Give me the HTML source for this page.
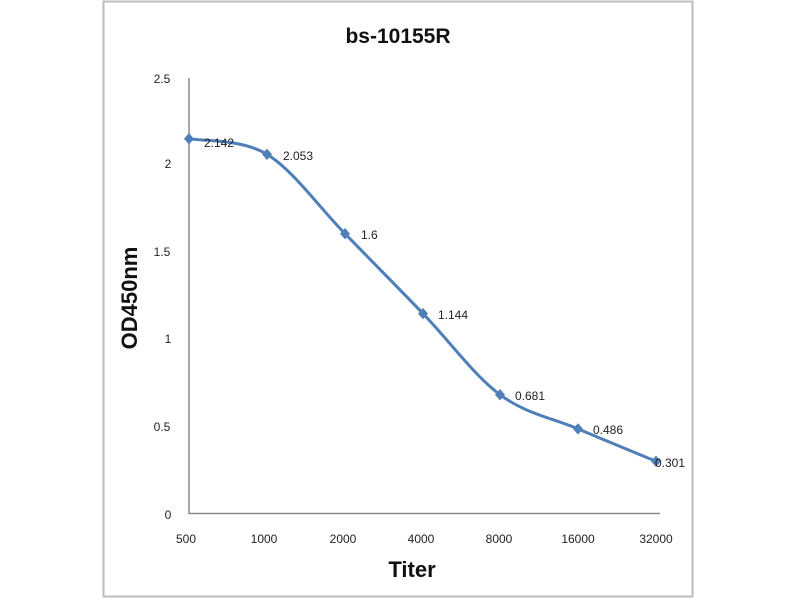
<!DOCTYPE html>
<html><head><meta charset="utf-8"><style>
html,body{margin:0;padding:0;background:#fff;}
svg{display:block;font-family:"Liberation Sans",sans-serif;}
</style></head><body>
<svg width="800" height="600" viewBox="0 0 800 600">
<rect x="0" y="0" width="800" height="600" fill="#fff"/>
<rect x="103.5" y="1.5" width="589" height="595" fill="none" stroke="#bcbcbc" stroke-width="2"/>
<text x="398" y="43" text-anchor="middle" font-size="21" font-weight="bold" fill="#111">bs-10155R</text>
<line x1="189" y1="78" x2="189" y2="514" stroke="#8a8a8a" stroke-width="1.5"/>
<line x1="189" y1="513.5" x2="660" y2="513.5" stroke="#8a8a8a" stroke-width="1.5"/>
<g font-size="12" fill="#222" text-anchor="middle">
<text x="162" y="83">2.5</text>
<text x="168" y="168">2</text>
<text x="162" y="256">1.5</text>
<text x="168" y="343">1</text>
<text x="162" y="431">0.5</text>
<text x="168" y="519">0</text>
<text x="186" y="543">500</text>
<text x="264" y="543">1000</text>
<text x="343" y="543">2000</text>
<text x="421" y="543">4000</text>
<text x="499" y="543">8000</text>
<text x="578" y="543">16000</text>
<text x="656" y="543">32000</text>
</g>
<text x="412" y="577" text-anchor="middle" font-size="22" font-weight="bold" fill="#111">Titer</text>
<text transform="translate(137,298) rotate(-90)" text-anchor="middle" font-size="22" font-weight="bold" fill="#111">OD450nm</text>
<path d="M189,138.7 C202,141.3 241,138.5 267,154.3 C293,170.1 319,207.2 345,233.7 C371,260.3 397.2,286.8 423,313.6 C448.8,340.4 474.2,375.5 500,394.7 C525.8,413.9 552,417.8 578,428.9 C604,440 643,455.9 656,461.3" fill="none" stroke="#4f7fb8" stroke-width="3"/>
<g fill="#4f7fb8">
<path d="M189,133 l5,5.7 -5,5.7 -5,-5.7z"/>
<path d="M267,148.6 l5,5.7 -5,5.7 -5,-5.7z"/>
<path d="M345,228 l5,5.7 -5,5.7 -5,-5.7z"/>
<path d="M423,307.9 l5,5.7 -5,5.7 -5,-5.7z"/>
<path d="M500,389 l5,5.7 -5,5.7 -5,-5.7z"/>
<path d="M578,423.2 l5,5.7 -5,5.7 -5,-5.7z"/>
<path d="M656,455.6 l5,5.7 -5,5.7 -5,-5.7z"/>
</g>
<g font-size="12" fill="#222">
<text x="204" y="147">2.142</text>
<text x="283" y="160">2.053</text>
<text x="361" y="239">1.6</text>
<text x="438" y="319">1.144</text>
<text x="515" y="400">0.681</text>
<text x="593" y="434">0.486</text>
<text x="655" y="467">0.301</text>
</g>
</svg>
</body></html>
